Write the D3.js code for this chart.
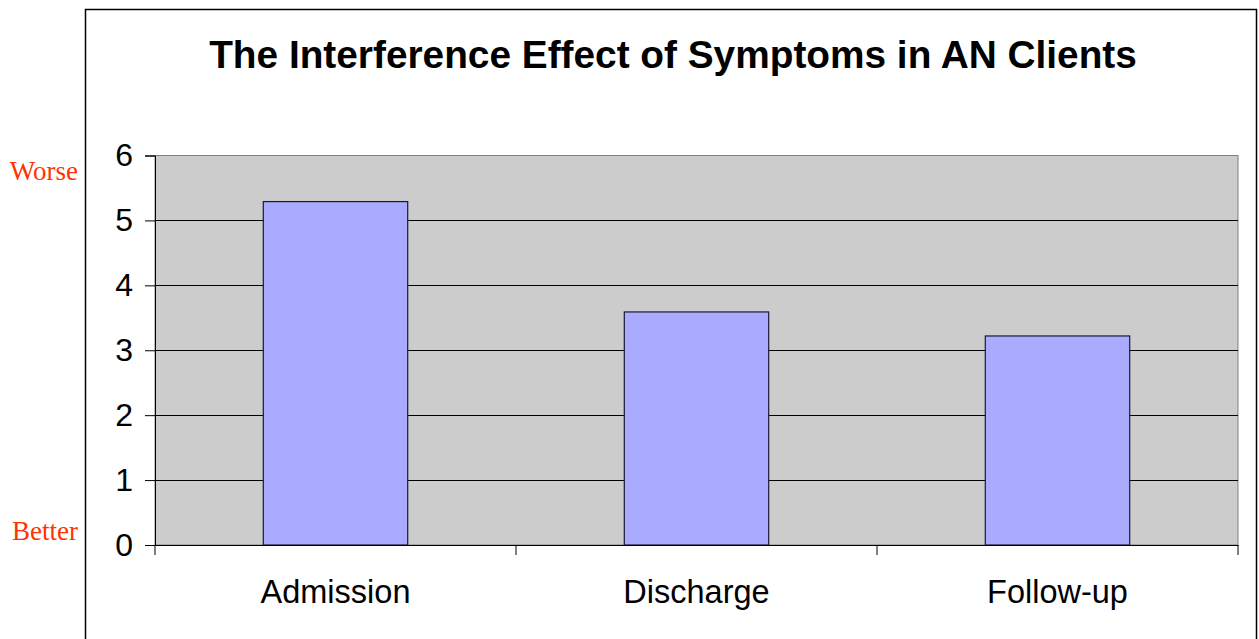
<!DOCTYPE html>
<html>
<head>
<meta charset="utf-8">
<script src="https://cdn.jsdelivr.net/npm/d3@7"></script>
<style>
  body { margin: 0; background: #fff; }
  svg { display: block; }
</style>
</head>
<body>
<div id="chart"></div>
<script>
// chart data
let categories = ["Admission", "Discharge", "Follow-up"]
let values = [5.29, 3.59, 3.22]
let yTicks = [0, 1, 2, 3, 4, 5, 6]
let titleText = "The Interference Effect of Symptoms in AN Clients"

// page and plot dimensions
let pageWidth = 1259, pageHeight = 639
let plot = {left: 155, top: 155.5, right: 1238, bottom: 545}

let svg = d3.select("#chart")
    .append("svg")
    .attr("width", pageWidth)
    .attr("height", pageHeight)

// outer chart frame
svg.append("rect")
    .attr("x", 85.5)
    .attr("y", 9.5)
    .attr("width", 1171)
    .attr("height", 640)
    .style("fill", "#fff")
    .style("stroke", "#000")
    .style("stroke-width", 1.5)

// scales
let x = d3.scaleBand()
    .domain(categories)
    .range([plot.left, plot.right])
    .paddingInner(0.6)
    .paddingOuter(0.3)

let y = d3.scaleLinear()
    .domain([0, 6])
    .range([plot.bottom, plot.top])

// grey plot background
svg.append("rect")
    .attr("x", plot.left)
    .attr("y", plot.top)
    .attr("width", plot.right - plot.left)
    .attr("height", plot.bottom - plot.top)
    .style("fill", "#cccccc")
    .style("stroke", "#808080")
    .style("stroke-width", 1)

// horizontal grid lines
svg.append("g")
    .selectAll("line")
    .data(yTicks.filter(d => d > 0 && d < 6))
    .enter()
    .append("line")
    .attr("x1", plot.left)
    .attr("x2", plot.right)
    .attr("y1", d => Math.round(y(d)) + 0.5)
    .attr("y2", d => Math.round(y(d)) + 0.5)
    .style("stroke", "#000")
    .style("stroke-width", 1)

// bars
svg.append("g")
    .selectAll("rect")
    .data(values)
    .enter()
    .append("rect")
    .attr("x", (d, i) => x(categories[i]))
    .attr("y", d => y(d))
    .attr("width", x.bandwidth())
    .attr("height", d => y(0) - y(d))
    .style("fill", "#aaaaff")
    .style("stroke", "#1a1a33")
    .style("stroke-width", 1.2)

// y axis
let yAxis = svg.append("g")
    .attr("transform", "translate(" + plot.left + ",0)")
    .call(d3.axisLeft(y).tickValues(yTicks).tickSize(10).tickPadding(12).tickFormat(d3.format("d")))
yAxis.select(".domain").style("stroke", "#000")
yAxis.selectAll(".tick line").style("stroke", "#000")
yAxis.selectAll("text")
    .style("font-family", "Arial, 'Liberation Sans', sans-serif")
    .style("font-size", "32px")
    .style("fill", "#000")

// x axis with ticks at the category boundaries
let xAxis = svg.append("g")
    .attr("transform", "translate(0," + plot.bottom + ")")
    .call(d3.axisBottom(x).tickSize(0).tickPadding(35))
xAxis.select(".domain").style("stroke", "#000")
xAxis.selectAll("text")
    .style("font-family", "Arial, 'Liberation Sans', sans-serif")
    .style("font-size", "32.5px")
    .style("fill", "#000")

let step = x.step()
xAxis.selectAll(".boundary")
    .data(d3.range(categories.length + 1))
    .enter()
    .append("line")
    .attr("x1", i => plot.left + i * step)
    .attr("x2", i => plot.left + i * step)
    .attr("y1", 0)
    .attr("y2", 10)
    .style("stroke", "#000")

// title
svg.append("text")
    .attr("x", 673)
    .attr("y", 68)
    .style("text-anchor", "middle")
    .style("font-family", "Arial, 'Liberation Sans', sans-serif")
    .style("font-weight", "bold")
    .style("font-size", "38.8px")
    .text(titleText)

// red side labels
svg.append("text")
    .attr("x", 78)
    .attr("y", 180)
    .style("text-anchor", "end")
    .style("font-family", "'Times New Roman', 'Liberation Serif', serif")
    .style("font-size", "27px")
    .style("fill", "#ff3300")
    .text("Worse")

svg.append("text")
    .attr("x", 78)
    .attr("y", 540)
    .style("text-anchor", "end")
    .style("font-family", "'Times New Roman', 'Liberation Serif', serif")
    .style("font-size", "27px")
    .style("fill", "#ff3300")
    .text("Better")
</script>
</body>
</html>
